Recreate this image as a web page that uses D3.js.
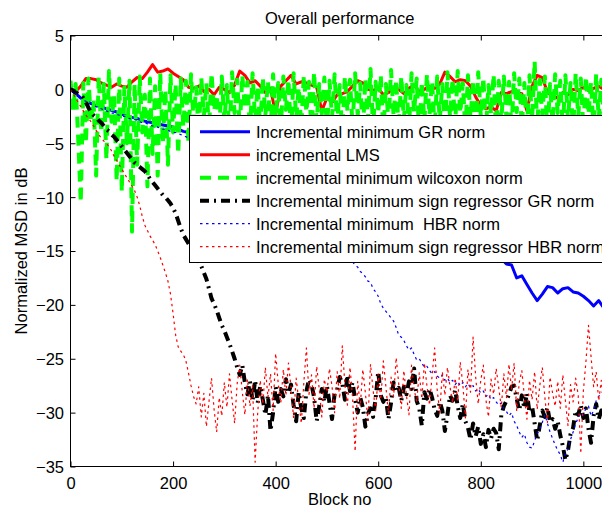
<!DOCTYPE html>
<html>
<head>
<meta charset="utf-8">
<script src="https://cdn.jsdelivr.net/npm/d3@7"></script>
<style>
  html, body { margin: 0; padding: 0; background: #fff; overflow: hidden; }
  svg { display: block; font-family: "Liberation Sans", Arial, Helvetica, sans-serif; }
</style>
</head>
<body>
<svg id="chart" width="620" height="512"></svg>
<script>
// ---- chart data ----------------------------------------------------------
const chartTitle = "Overall performance";
const xLabel = "Block no";
const yLabel = "Normalized MSD in dB";
const xTicks = [0, 200, 400, 600, 800, 1000];
const yTicks = [5, 0, -5, -10, -15, -20, -25, -30, -35];

// block spacing between stored samples
const coarseStep = 10;
const fineStep = 5;

const seriesNames = [
  "Incremental minimum GR norm",
  "incremental LMS",
  "incremental minimum wilcoxon norm",
  "Incremental minimum sign regressor GR norm",
  "Incremental minimum  HBR norm",
  "Incremental minimum sign regressor HBR norm"
];

// Incremental minimum GR norm (every 10 blocks)
const grNorm = [
  0.0, -0.4, -0.8, -1.1, -1.3, -1.5, -1.6, -1.8, -1.95, -2.1,
  -2.3, -2.5, -2.6, -2.7, -2.9, -3.0, -3.1, -3.2, -3.3, -3.4,
  -3.5, -3.7, -3.9, -4.0, -4.2, -4.4, -4.5, -4.7, -4.9, -5.0,
  -5.2, -5.4, -5.5, -5.7, -5.9, -6.0, -6.2, -6.4, -6.5, -6.7,
  -6.9, -7.0, -7.2, -7.4, -7.5, -7.7, -7.9, -8.0, -8.2, -8.4,
  -8.5, -8.7, -8.9, -9.1, -9.3, -9.5, -9.7, -9.9, -10.1, -10.3,
  -10.5, -10.7, -10.9, -11.1, -11.3, -11.5, -11.7, -11.9, -12.1, -12.3,
  -12.5, -12.7, -12.9, -13.1, -13.3, -13.5, -13.7, -13.9, -14.1, -14.3,
  -14.6, -14.8, -15.1, -15.4, -15.7, -16.2, -16.3, -17.5, -17.3, -18.1,
  -18.9, -19.6, -19.0, -18.3, -18.4, -18.9, -18.5, -18.4, -18.8, -18.9,
  -19.2, -19.6, -20.1, -19.6, -20.3, -20.0, -20.2, -20.1, -20.3, -20.2
];

// incremental LMS (every 10 blocks)
const lms = [
  0.0, -0.2, 0.3, 1.0, 1.0, 0.9, 0.6, 0.4, 0.2, 0.5,
  0.3, 0.2, 0.7, 1.1, 1.0, 1.6, 2.3, 1.6, 1.7, 1.9,
  1.5, 1.2, 0.9, 0.2, 0.1, 0.3, -0.2, 0.0, -0.5, 0.2,
  0.0, -0.3, 0.4, 1.7, 1.3, 0.6, 0.8, 0.3, -0.3, 0.1,
  -2.3, 0.3, 0.8, 1.3, 0.5, 0.7, 0.6, 0.4, 0.2, -2.0,
  -0.8, -1.2, -0.5, -0.4, -0.2, 0.3, 0.8, 0.6, 0.0, -0.1,
  0.1, -0.5, -0.3, 0.2, 0.0, -0.4, 0.1, 0.4, -0.2, 0.0,
  0.3, 0.1, 0.5, 1.6, 1.2, 0.7, 0.9, 0.8, 0.3, -0.7,
  -1.5, -1.8, -1.6, -2.0, -0.3, -0.4, -0.2, -0.3, -0.4, -2.0,
  0.3, 1.3, 1.1, -0.3, -0.6, -0.8, -0.3, -0.5, 0.0, -0.1,
  0.2, -0.1, 0.1, 0.3, 0.0, 0.1, -0.2, 0.0, 0.2, 0.1
];

// incremental minimum wilcoxon norm (every 5 blocks)
const wilcoxon = [
  0.8, -2.0, 0.5, -4.5, -10.5, 0.6, -5.0, 1.0, -3.0, -1.0,
  -8.0, 1.2, -4.0, 0.5, -6.5, 1.7, -3.0, -0.5, -8.5, 1.0,
  -9.5, 0.2, -5.0, 0.8, -13.2, 0.5, -7.0, 1.2, -4.0, -0.5,
  -9.0, 1.0, -6.0, 0.3, -8.0, 1.5, -5.0, 0.0, -7.0, 1.3,
  -4.0, 0.5, -6.0, 1.0, -3.5, 0.8, -5.0, 1.4, -3.0, 0.2,
  -4.2, 1.1, -2.5, 0.6, -3.8, 1.5, -2.0, -0.5, -4.0, 1.2,
  -3.0, 0.4, -4.5, 1.6, -2.2, 0.9, -3.6, 1.3, -1.8, 0.7,
  -4.0, 1.5, -2.8, 0.3, -3.5, 1.1, -2.4, 0.8, -4.2, 1.4,
  -2.6, 0.6, -3.8, 1.2, -1.9, 0.9, -4.4, 1.5, -2.7, 0.2,
  -3.4, 1.3, -2.1, 0.7, -4.1, 1.6, -3.0, 0.5, -2.3, 1.1,
  -3.9, 0.8, -2.6, 1.4, -3.3, 0.4, -4.3, 1.2, -2.0, 0.9,
  -3.5, 1.5, -2.4, 0.6, -4.0, 1.0, -2.9, 1.9, -3.7, 0.7,
  -2.2, 1.3, -4.2, 0.5, -3.1, 1.8, -2.5, 0.9, -3.9, 1.2,
  -2.8, 0.4, -3.6, 1.5, -2.1, 1.0, -4.4, 0.7, -3.0, 1.4,
  -2.4, 0.8, -3.8, 1.2, -2.9, 0.5, -4.0, 1.6, -2.6, 1.0,
  -3.3, 1.7, -2.2, 0.6, -3.9, 1.3, -2.7, 0.9, -4.1, 1.6,
  -2.5, 1.1, -3.6, 0.4, -2.3, 1.4, -4.2, 0.8, -3.0, 1.2,
  -2.6, 0.7, -3.8, 1.5, -2.1, 1.0, -3.4, 0.6, -4.0, 1.3,
  -2.9, 2.6, -3.5, 0.9, -2.4, 1.2, -4.3, 0.5, -3.1, 1.4,
  -2.2, 0.8, -3.7, 1.3, -2.8, 0.6, -4.0, 1.5, -2.5, 1.0,
  -3.6, 1.2, -2.3, 0.7, -3.9, 1.4, -2.7, 0.9, -3.2, 1.1
];

// Incremental minimum sign regressor GR norm (every 5 blocks)
const signGr = [
  0.0, -0.1, -0.3, -0.4, -0.5, -0.8, -1.2, -1.7, -2.1, -2.4,
  -2.6, -2.9, -3.1, -3.4, -3.7, -3.9, -4.2, -4.4, -4.7, -5.0,
  -5.3, -5.6, -5.9, -6.2, -6.5, -6.8, -7.0, -7.2, -7.4, -7.6,
  -7.9, -8.3, -8.6, -8.9, -9.2, -9.5, -9.8, -10.0, -10.3, -10.6,
  -11.0, -11.5, -12.2, -12.9, -13.5, -13.9, -14.3, -14.7, -15.1, -15.6,
  -16.0, -16.4, -17.0, -17.6, -18.5, -19.4, -19.9, -20.5, -21.2, -21.9,
  -22.4, -23.0, -23.6, -24.3, -25.0, -25.8, -26.5, -25.6, -27.2, -28.3,
  -27.1, -28.9, -27.0, -29.1, -27.5, -28.8, -30.2, -28.4, -31.7, -30.0,
  -27.6, -29.0, -27.8, -28.5, -26.9, -28.2, -27.4, -29.3, -30.8, -28.1,
  -29.6, -30.5, -28.0, -26.9, -27.4, -28.6, -30.8, -29.4, -27.8, -29.0,
  -27.5, -29.1, -30.6, -28.2, -27.9, -26.7, -27.3, -28.8, -26.5, -28.0,
  -27.2, -28.8, -30.0, -28.6, -29.5, -31.3, -30.1, -29.6, -30.4, -28.7,
  -26.2, -28.4, -29.0, -28.6, -30.6, -29.1, -27.2, -28.0, -27.7, -28.9,
  -27.6, -28.3, -27.1, -27.8, -25.9, -28.9, -29.6, -31.2, -28.1, -28.7,
  -27.8, -28.6, -29.7, -30.3, -29.0, -29.8, -31.7, -30.2, -28.4, -28.9,
  -27.9, -29.4, -30.5, -29.2, -30.8, -31.4, -32.5, -31.0, -32.2, -31.3,
  -32.9, -32.0, -33.2, -31.6, -32.4, -31.5, -31.9, -33.4, -30.2, -29.4,
  -28.9, -28.3, -27.6, -27.5, -28.7, -29.8, -28.4, -29.6, -28.2, -30.0,
  -29.4, -31.0, -32.6, -31.2, -29.8, -30.4, -29.5, -30.9, -30.6, -31.5,
  -30.8, -32.1, -33.1, -34.4, -33.5, -32.0, -31.4, -29.8, -30.2, -29.3,
  -30.5, -29.6, -31.5, -32.8, -30.3, -29.2, -30.6, -29.8, -30.2, -29.5
];

// Incremental minimum HBR norm (every 5 blocks)
const hbr = [
  0.0, -0.2, -0.4, -0.6, -0.8, -1.0, -1.1, -1.3, -1.4, -1.5,
  -1.6, -1.7, -1.8, -1.9, -2.0, -2.1, -2.2, -2.2, -2.3, -2.4,
  -2.5, -2.5, -2.6, -2.7, -2.8, -2.8, -2.9, -3.0, -3.1, -3.1,
  -3.2, -3.3, -3.4, -3.4, -3.5, -3.6, -3.7, -3.7, -3.8, -3.9,
  -4.0, -4.0, -4.1, -4.2, -4.3, -4.4, -4.5, -4.6, -4.6, -4.7,
  -4.8, -4.9, -5.0, -5.1, -5.2, -5.3, -5.4, -5.5, -5.6, -5.7,
  -5.8, -5.9, -6.0, -6.2, -6.3, -6.4, -6.5, -6.7, -6.8, -6.9,
  -7.1, -7.2, -7.3, -7.5, -7.6, -7.8, -7.9, -8.1, -8.2, -8.4,
  -8.5, -8.7, -8.9, -9.0, -9.2, -9.4, -9.5, -9.7, -9.9, -10.1,
  -10.3, -10.5, -10.7, -10.9, -11.1, -11.3, -11.5, -11.7, -12.0, -12.2,
  -12.4, -12.7, -12.9, -13.2, -13.5, -13.8, -14.1, -14.4, -14.8, -15.2,
  -16.0, -16.3, -16.5, -16.9, -17.1, -17.4, -17.8, -17.9, -18.5, -18.8,
  -19.2, -19.9, -20.3, -20.6, -20.9, -21.2, -21.5, -22.1, -22.8, -23.0,
  -23.3, -23.8, -24.2, -24.0, -24.6, -25.1, -25.0, -25.4, -25.8, -25.7,
  -26.1, -26.4, -26.2, -26.6, -26.8, -26.5, -27.0, -26.8, -27.2, -27.0,
  -27.4, -27.1, -27.5, -27.2, -27.6, -27.3, -27.7, -27.5, -28.0, -27.8,
  -28.2, -28.0, -28.5, -28.3, -28.8, -28.6, -29.0, -29.3, -29.1, -29.6,
  -29.9, -30.3, -30.0, -30.8, -31.2, -31.8, -32.3, -32.0, -32.8, -33.2,
  -33.3, -32.6, -32.0, -31.5, -30.9, -30.2, -31.0, -31.8, -32.4, -33.0,
  -33.5, -33.9, -34.6, -33.8, -33.4, -32.5, -31.8, -31.0, -30.5, -30.0,
  -30.2, -29.6, -29.4, -30.3, -29.8, -28.9, -28.5, -28.2, -28.0, -27.8
];

// Incremental minimum sign regressor HBR norm (every 5 blocks)
const signHbr = [
  0.0, -0.4, -0.8, -1.2, -1.6, -2.0, -2.4, -2.7, -3.0, -3.4,
  -3.8, -4.2, -4.5, -4.8, -5.0, -5.3, -5.7, -6.2, -6.6, -7.0,
  -7.4, -7.8, -8.2, -8.6, -9.0, -9.4, -10.0, -10.8, -11.8, -12.6,
  -13.1, -13.6, -14.0, -14.4, -15.0, -15.6, -16.3, -17.0, -17.8, -19.0,
  -20.8, -22.8, -23.9, -24.3, -24.6, -25.2, -26.3, -27.5, -28.5, -29.2,
  -27.6, -30.4, -28.2, -31.3, -29.0, -26.8, -29.7, -31.8, -28.6, -30.3,
  -27.2, -29.5, -26.4, -28.8, -31.0, -27.3, -25.6, -28.1, -30.2, -26.9,
  -29.4, -27.5, -34.6, -30.0, -27.0, -29.2, -25.8, -28.6, -26.4, -29.8,
  -24.5, -27.3, -29.1, -26.0, -28.4, -25.4, -27.7, -30.5, -26.8, -28.9,
  -31.0, -27.2, -24.0, -28.3, -26.5, -29.6, -25.7, -27.8, -30.4, -26.9,
  -28.1, -25.9, -27.6, -30.0, -26.2, -28.7, -23.8, -27.4, -29.3, -25.8,
  -28.6, -33.6, -27.1, -29.4, -26.0, -28.2, -30.7, -25.5, -27.9, -29.8,
  -26.4, -28.8, -25.2, -27.6, -30.1, -26.7, -28.5, -24.9, -27.3, -29.6,
  -26.1, -28.4, -30.2, -25.6, -27.8, -29.0, -26.3, -28.7, -25.4, -27.5,
  -29.3, -26.6, -24.0, -27.9, -30.0, -26.2, -28.4, -25.8, -27.6, -29.1,
  -26.8, -28.9, -25.3, -27.4, -30.5, -26.0, -28.1, -23.0, -26.7, -29.2,
  -27.0, -25.6, -28.8, -30.4, -26.9, -28.3, -25.9, -27.7, -29.5, -26.4,
  -28.6, -25.5, -27.9, -25.4, -29.8, -27.2, -26.1, -28.5, -30.6, -27.0,
  -28.8, -26.2, -29.7, -27.5, -25.8, -28.6, -30.9, -26.7, -28.2, -29.4,
  -27.1, -29.6, -26.5, -28.9, -31.2, -27.4, -29.0, -26.8, -28.4, -33.8,
  -28.0, -25.3, -21.9, -24.8, -27.6, -26.2, -28.9, -27.0, -29.5, -26.6
];

// ---- layout & scales -----------------------------------------------------
const plot = { left: 70.5, top: 35.5, right: 609, bottom: 466.5 };
const fontSize = 16.5;

const x = d3.scaleLinear().domain([0, 1050]).range([plot.left, plot.right]);
const y = d3.scaleLinear().domain([-35, 5]).range([plot.bottom, plot.top]);

const svg = d3.select("#chart");

svg.append("defs").append("clipPath").attr("id", "plot-clip")
  .append("rect")
  .attr("x", plot.left).attr("y", plot.top)
  .attr("width", plot.right - plot.left).attr("height", plot.bottom - plot.top);

// ---- series --------------------------------------------------------------
const styles = [
  { data: grNorm,   step: coarseStep, color: "#0000ff", width: 3,   dash: null },
  { data: lms,      step: coarseStep, color: "#ff0000", width: 3,   dash: null },
  { data: wilcoxon, step: fineStep,   color: "#00ff00", width: 4,   dash: "11,7" },
  { data: signGr,   step: fineStep,   color: "#000000", width: 4,   dash: "9,5,2,5" },
  { data: hbr,      step: fineStep,   color: "#0000ff", width: 1.2, dash: "2.5,3.5" },
  { data: signHbr,  step: fineStep,   color: "#ff0000", width: 1.2, dash: "2.5,3.5" }
];

const lines = svg.append("g").attr("clip-path", "url(#plot-clip)");
styles.forEach(s => {
  const gen = d3.line()
    .x((d, i) => x(i * s.step))
    .y(d => y(d));
  lines.append("path")
    .datum(s.data)
    .attr("d", gen)
    .attr("fill", "none")
    .attr("stroke", s.color)
    .attr("stroke-width", s.width)
    .attr("stroke-linejoin", "round")
    .attr("stroke-dasharray", s.dash);
});

// ---- axes (box with inward ticks) ----------------------------------------
const fmt = d3.format("d");
const styleAxis = g => {
  g.select(".domain").remove();
  g.selectAll(".tick line").attr("stroke", "#000").attr("stroke-width", 1);
  g.selectAll("text").attr("fill", "#000")
    .style("font-size", fontSize + "px")
    .style("font-family", '"Liberation Sans", Arial, Helvetica, sans-serif');
};

svg.append("g").attr("transform", `translate(0,${plot.bottom})`)
  .call(d3.axisBottom(x).tickValues(xTicks).tickFormat(fmt).tickSizeInner(-5).tickSizeOuter(0))
  .call(styleAxis)
  .call(g => g.selectAll("text").attr("y", 22).attr("dy", null));

svg.append("g").attr("transform", `translate(0,${plot.top})`)
  .call(d3.axisTop(x).tickValues(xTicks).tickFormat("").tickSizeInner(-5).tickSizeOuter(0))
  .call(styleAxis);

svg.append("g").attr("transform", `translate(${plot.left},0)`)
  .call(d3.axisLeft(y).tickValues(yTicks).tickFormat(fmt).tickSizeInner(-5).tickSizeOuter(0))
  .call(styleAxis)
  .call(g => g.selectAll("text").attr("x", -6.5).attr("dy", "0.36em"));

svg.append("g").attr("transform", `translate(${plot.right},0)`)
  .call(d3.axisRight(y).tickValues(yTicks).tickFormat("").tickSizeInner(-5).tickSizeOuter(0))
  .call(styleAxis);

svg.append("rect")
  .attr("x", plot.left).attr("y", plot.top)
  .attr("width", plot.right - plot.left).attr("height", plot.bottom - plot.top)
  .attr("fill", "none").attr("stroke", "#000").attr("stroke-width", 1);

// ---- titles --------------------------------------------------------------
const textStyle = sel => sel
  .attr("fill", "#000")
  .style("font-size", fontSize + "px");

svg.append("text").call(textStyle)
  .attr("x", (plot.left + plot.right) / 2).attr("y", 24)
  .attr("text-anchor", "middle").text(chartTitle);

svg.append("text").call(textStyle)
  .attr("x", (plot.left + plot.right) / 2).attr("y", 505)
  .attr("text-anchor", "middle").text(xLabel);

svg.append("text").call(textStyle)
  .attr("transform", `translate(27,${(plot.top + plot.bottom) / 2}) rotate(-90)`)
  .attr("text-anchor", "middle").text(yLabel);

// ---- legend --------------------------------------------------------------
const legend = svg.append("g");
legend.append("rect")
  .attr("x", 189.5).attr("y", 115.5).attr("width", 440).attr("height", 147)
  .attr("fill", "#fff").attr("stroke", "#000").attr("stroke-width", 1);

styles.forEach((s, i) => {
  const cy = 131.7 + i * 23;
  legend.append("line")
    .attr("x1", 200).attr("x2", 250).attr("y1", cy).attr("y2", cy)
    .attr("stroke", s.color).attr("stroke-width", s.width)
    .attr("stroke-dasharray", s.dash);
  legend.append("text").call(textStyle)
    .attr("x", 256).attr("y", cy + 6)
    .style("white-space", "pre")
    .text(seriesNames[i]);
});
</script>
</body>
</html>
